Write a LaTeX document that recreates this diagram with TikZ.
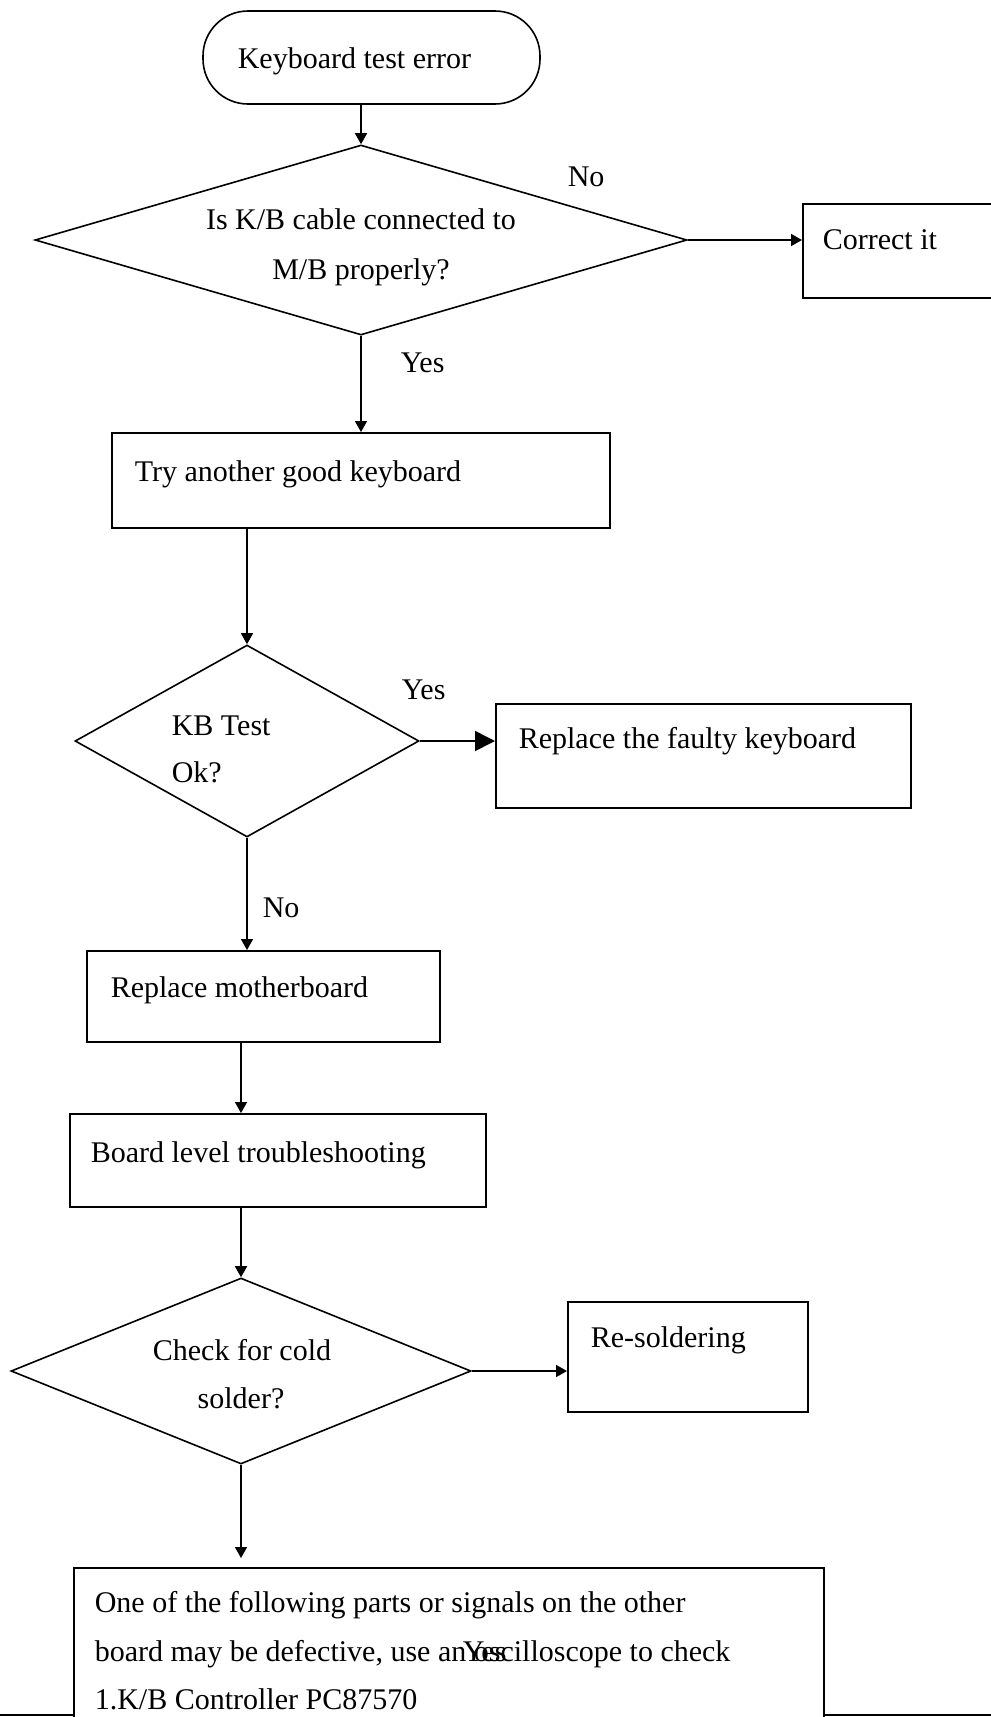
\documentclass[tikz,border=0pt]{standalone}
\usepackage{fontspec}
\setmainfont{Liberation Serif}
\usetikzlibrary{shapes.geometric,arrows.meta}
\begin{document}
\begin{tikzpicture}[x=1pt,y=-1pt,
  line width=1.6pt,
  box/.style={draw, rectangle, inner sep=0pt, fill=white},
  decision/.style={draw, diamond, inner sep=0pt, aspect=1},
  txt/.style={inner sep=0pt, font=\fontsize{30}{36}\selectfont},
  arr/.style={-{Triangle[length=11pt,width=12pt]}},
  bigarr/.style={-{Triangle[length=20pt,width=20pt]}},
]
\useasboundingbox (0,0) rectangle (991,1717);
\clip (0,0) rectangle (991,1717);
\fill[white] (0,0) rectangle (991,1717);

% start
\node[box, rounded corners=45pt, minimum width=337pt, minimum height=93pt] (start) at (371.5,57.5) {};
\node[txt, anchor=base west] (startT) at (237,68) {Keyboard test error};

% decision 1
\node[decision, minimum width=652pt, minimum height=190pt] (d1) at (361,240) {};
\node[txt, anchor=base] (d1a) at (361,229) {Is K/B cable connected to};
\node[txt, anchor=base] (d1b) at (361,279) {M/B properly?};
\node[txt, anchor=base west] (no1) at (567,186) {No};

\node[box, minimum width=200pt, minimum height=94pt, anchor=north west] (corr) at (802,203) {};
\node[txt, anchor=base west] (corrT) at (822,249) {Correct it};

\node[txt, anchor=base west] (yes1) at (400,372) {Yes};

% try another
\node[box, minimum width=498pt, minimum height=95pt, anchor=north west] (try) at (111,432) {};
\node[txt, anchor=base west] (tryT) at (134,481) {Try another good keyboard};

% decision 2
\node[decision, minimum width=344pt, minimum height=192pt] (d2) at (247,741) {};
\node[txt, anchor=base west] (d2a) at (171,735) {KB Test};
\node[txt, anchor=base west] (d2b) at (171,782) {Ok?};
\node[txt, anchor=base west] (yes2) at (401,699) {Yes};

\node[box, minimum width=415pt, minimum height=104pt, anchor=north west] (rk) at (495,703) {};
\node[txt, anchor=base west] (rkT) at (518,748) {Replace the faulty keyboard};

\node[txt, anchor=base west] (no2) at (262,917) {No};

% replace motherboard
\node[box, minimum width=353pt, minimum height=91pt, anchor=north west] (mb) at (86,950) {};
\node[txt, anchor=base west] (mbT) at (110,997) {Replace motherboard};

% board level
\node[box, minimum width=416pt, minimum height=93pt, anchor=north west] (bl) at (69,1113) {};
\node[txt, anchor=base west] (blT) at (90,1162) {Board level troubleshooting};

% decision 3
\node[decision, minimum width=460pt, minimum height=186pt] (d3) at (241,1371) {};
\node[txt, anchor=base] (d3a) at (242,1360) {Check for cold};
\node[txt, anchor=base] (d3b) at (241,1408) {solder?};

\node[box, minimum width=240pt, minimum height=110pt, anchor=north west] (rs) at (567,1301) {};
\node[txt, anchor=base west] (rsT) at (590,1347) {Re-soldering};

% footer line
\coordinate (fl) at (0,1715);
\coordinate (fr) at (991,1715);
\draw (fl) -- (fr);

% final box
\node[box, minimum width=750pt, minimum height=300pt, anchor=north west] (big) at (73,1567) {};
\node[txt, anchor=base west] (bigA) at (94,1612) {One of the following parts or signals on the other};
\node[txt, anchor=base west] (bigB) at (94,1661) {board may be defective, use an oscilloscope to check};
\node[txt, anchor=base west] (bigC) at (94,1709) {1.K/B Controller PC87570};
\node[txt, anchor=base west] (yes3) at (462,1661) {Yes};

% connectors
\draw[arr] (start.south -| d1.north) -- (d1.north);
\draw[arr] (d1.east) -- (corr.west |- d1.east);
\draw[arr] (d1.south) -- (try.north -| d1.south);
\draw[arr] (try.south -| d2.north) -- (d2.north);
\draw[bigarr] (d2.east) -- (rk.west |- d2.east);
\draw[arr] (d2.south) -- (mb.north -| d2.south);
\draw[arr] (mb.south -| d3.north) -- (bl.north -| d3.north);
\draw[arr] (bl.south -| d3.north) -- (d3.north);
\draw[arr] (d3.east) -- (rs.west |- d3.east);
\draw[arr, shorten >=9pt] (d3.south) -- (big.north -| d3.south);
\end{tikzpicture}
\end{document}
